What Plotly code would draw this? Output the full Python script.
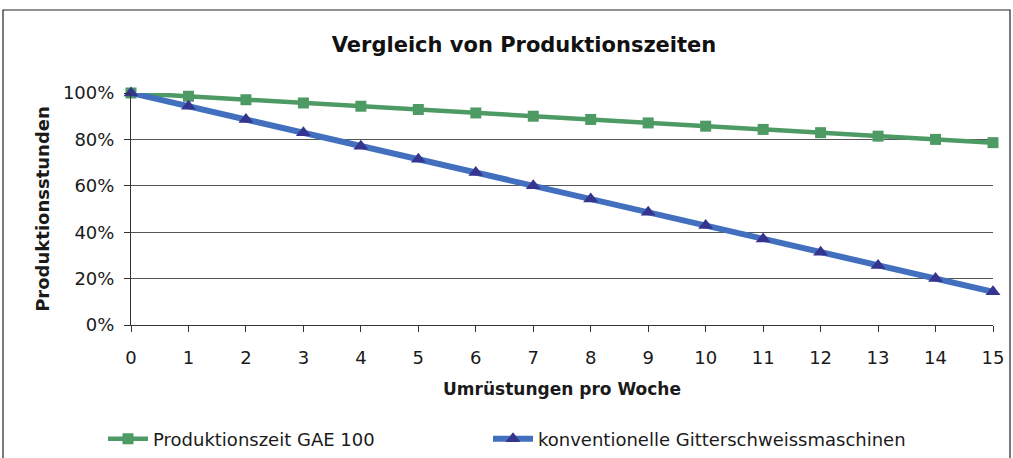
import plotly.graph_objects as go

umruestungen = list(range(16))
gae100 = [1.000, 0.986, 0.971, 0.957, 0.943, 0.929, 0.914, 0.900, 0.886, 0.871, 0.857, 0.843, 0.829, 0.814, 0.800, 0.786]
konventionell = [1.000, 0.943, 0.886, 0.829, 0.771, 0.714, 0.657, 0.600, 0.543, 0.486, 0.429, 0.371, 0.314, 0.257, 0.200, 0.143]
x_ticks = [str(i) for i in umruestungen]

FONT = "DejaVu Sans, Arial, sans-serif"

fig = go.Figure()
fig.add_trace(go.Scatter(
    x=umruestungen, y=gae100, mode="lines+markers",
    name="Produktionszeit GAE 100",
    line=dict(color="#4e9a64", width=4.5),
    marker=dict(symbol="square", size=11, color="#4e9a64"),
    cliponaxis=False, legend="legend",
))
fig.add_trace(go.Scatter(
    x=umruestungen, y=konventionell, mode="lines+markers",
    name="konventionelle Gitterschweissmaschinen",
    line=dict(color="#4270bf", width=6),
    marker=dict(symbol="triangle-up", size=13, color="#35348f"),
    cliponaxis=False, legend="legend2",
))

W, H = 1013, 458
ml, mr, mt, mb = 131, 20, 93, 133
pw, ph = W - ml - mr, H - mt - mb

# outer frame around the chart
fig.add_shape(type="rect", xref="paper", yref="paper",
              x0=(3 - ml) / pw, x1=(1010 - ml) / pw,
              y0=(H - mb - 470) / ph, y1=(H - mb - 10) / ph,
              line=dict(color="#222222", width=1.2), layer="below")

legend_common = dict(orientation="h", xanchor="left",
                     y=(H - mb - 439) / ph, yanchor="middle", itemwidth=40,
                     font=dict(size=18, family=FONT, color="#1a1a1a"),
                     bgcolor="rgba(0,0,0,0)")

fig.update_layout(
    width=W, height=H,
    margin=dict(l=ml, r=mr, t=mt, b=mb, autoexpand=False),
    paper_bgcolor="white", plot_bgcolor="white",
    font=dict(family=FONT, size=18, color="#1a1a1a"),
    title=dict(text="<b>Vergleich von Produktionszeiten</b>",
               x=524 / W, xref="container", xanchor="center",
               y=1 - 45 / H, yref="container", yanchor="middle",
               font=dict(size=21, family=FONT, color="#111111")),
    showlegend=True,
    legend=dict(x=(103 - ml) / pw, **legend_common),
    legend2=dict(x=(488 - ml) / pw, **legend_common),
    xaxis=dict(
        range=[0, 15], tickmode="array", tickvals=umruestungen, ticktext=x_ticks,
        showgrid=False, zeroline=False, automargin=False,
        showline=True, linecolor="#333333", linewidth=1,
        ticks="outside", ticklen=6, tickcolor="#333333",
        ticklabelstandoff=10,
        title=dict(text="<b>Umrüstungen pro Woche</b>", standoff=16,
                   font=dict(size=17, family=FONT)),
    ),
    yaxis=dict(
        range=[0, 1], tickvals=[0, 0.2, 0.4, 0.6, 0.8, 1.0], tickformat=".0%",
        showgrid=True, gridcolor="#555555", gridwidth=1, zeroline=False,
        automargin=False,
        showline=True, linecolor="#333333", linewidth=1,
        ticks="outside", ticklen=6, tickcolor="#333333",
        ticklabelstandoff=6,
        title=dict(text="<b>Produktionsstunden</b>", standoff=8,
                   font=dict(size=18, family=FONT)),
    ),
)

fig.write_html("out.html", config={"displayModeBar": False},
               post_script="document.body.style.margin='0';document.body.style.padding='0';")
